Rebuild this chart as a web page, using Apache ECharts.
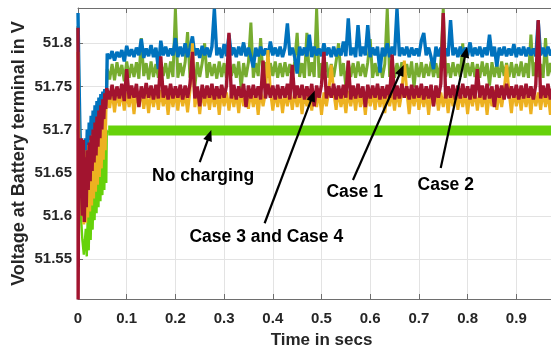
<!DOCTYPE html>
<html>
<head>
<meta charset="utf-8">
<script src="https://cdn.jsdelivr.net/npm/echarts@6/dist/echarts.min.js"></script>
<style>
  html, body { margin: 0; padding: 0; background: #ffffff; }
  #chart { width: 551px; height: 347px; }
</style>
</head>
<body>
<div id="chart"></div>
<script>
// ---- axis ticks -------------------------------------------------------
const xTickValues = [0, 0.1, 0.2, 0.3, 0.4, 0.5, 0.6, 0.7, 0.8, 0.9, 1];
const xTickLabels = ['0', '0.1', '0.2', '0.3', '0.4', '0.5', '0.6', '0.7', '0.8', '0.9', '1'];
const yTickValues = [51.55, 51.6, 51.65, 51.7, 51.75, 51.8];
const yTickLabels = ['51.55', '51.6', '51.65', '51.7', '51.75', '51.8'];

// ---- start-up transient, [time s, voltage V] -------------------------
const noChargingTransient = [
  [0, 51.700], [0.003, 51.640], [0.006, 51.600], [0.009, 51.572], [0.012, 51.555], [0.014, 51.553],
  [0.016, 51.585], [0.018, 51.553], [0.020, 51.600], [0.022, 51.560], [0.024, 51.615], [0.026, 51.572],
  [0.028, 51.628], [0.030, 51.584], [0.032, 51.638], [0.034, 51.595], [0.036, 51.646], [0.038, 51.603],
  [0.040, 51.655], [0.042, 51.610], [0.044, 51.665], [0.046, 51.617], [0.048, 51.673], [0.050, 51.624],
  [0.052, 51.683], [0.054, 51.630], [0.056, 51.690], [0.058, 51.638], [0.059, 51.695], [0.062, 51.699]
];
const case1Transient = [
  [0, 51.820], [0.002, 51.740], [0.004, 51.680], [0.006, 51.650], [0.008, 51.625], [0.010, 51.670],
  [0.012, 51.620], [0.014, 51.677], [0.016, 51.628], [0.018, 51.685], [0.020, 51.638], [0.022, 51.692],
  [0.024, 51.648], [0.026, 51.698], [0.028, 51.658], [0.030, 51.705], [0.032, 51.667], [0.034, 51.710],
  [0.036, 51.675], [0.038, 51.716], [0.040, 51.684], [0.042, 51.721], [0.044, 51.692], [0.046, 51.726],
  [0.048, 51.700], [0.050, 51.731], [0.052, 51.707], [0.054, 51.736], [0.056, 51.713], [0.058, 51.740]
];
const case2Transient = [
  [0, 51.835], [0.002, 51.760], [0.004, 51.700], [0.006, 51.660], [0.008, 51.630], [0.009, 51.622],
  [0.011, 51.675], [0.013, 51.640], [0.015, 51.690], [0.017, 51.655], [0.019, 51.700], [0.021, 51.668],
  [0.023, 51.708], [0.025, 51.680], [0.027, 51.716], [0.029, 51.690], [0.031, 51.722], [0.033, 51.698],
  [0.035, 51.728], [0.037, 51.705], [0.039, 51.733], [0.041, 51.712], [0.043, 51.737], [0.045, 51.718],
  [0.047, 51.741], [0.049, 51.723], [0.051, 51.744], [0.053, 51.728], [0.055, 51.747], [0.057, 51.732],
  [0.059, 51.750]
];
const case3Transient = [
  [0, 51.790], [0.002, 51.680], [0.004, 51.630], [0.006, 51.660], [0.008, 51.600], [0.010, 51.675],
  [0.012, 51.590], [0.014, 51.672], [0.016, 51.592], [0.018, 51.676], [0.020, 51.598], [0.022, 51.682],
  [0.024, 51.605], [0.026, 51.688], [0.028, 51.612], [0.030, 51.694], [0.032, 51.620], [0.034, 51.700],
  [0.036, 51.628], [0.038, 51.706], [0.040, 51.636], [0.042, 51.712], [0.044, 51.645], [0.046, 51.718],
  [0.048, 51.655], [0.050, 51.725], [0.052, 51.665], [0.054, 51.731], [0.056, 51.676], [0.058, 51.738]
];
const case4Transient = [
  [0, 51.818], [0.0003, 51.503], [0.001, 51.600], [0.003, 51.680], [0.005, 51.640], [0.007, 51.690],
  [0.009, 51.600], [0.011, 51.688], [0.013, 51.593], [0.015, 51.668], [0.017, 51.610], [0.019, 51.676],
  [0.021, 51.630], [0.023, 51.685], [0.025, 51.640], [0.027, 51.693], [0.029, 51.652], [0.031, 51.700],
  [0.033, 51.662], [0.035, 51.708], [0.037, 51.670], [0.039, 51.715], [0.041, 51.680], [0.043, 51.722],
  [0.045, 51.690], [0.047, 51.728], [0.049, 51.700], [0.051, 51.735], [0.053, 51.712], [0.055, 51.742],
  [0.057, 51.724], [0.059, 51.748]
];

// ---- settled response, sampled every 5 ms from 0.06 s to 1.0 s --------
const STEADY_T0 = 0.06;
const STEADY_DT = 0.005;

const noChargingSteady = [
  [0.062, 51.699], [0.2, 51.699], [0.4, 51.699], [0.6, 51.699], [0.8, 51.699], [1.0, 51.699]
];

const case1Steady = [
  51.770, 51.758, 51.776, 51.757, 51.778, 51.762, 51.775, 51.756, 51.779, 51.760,
  51.776, 51.761, 51.778, 51.759, 51.806, 51.762, 51.777, 51.758, 51.779, 51.761,
  51.776, 51.760, 51.778, 51.762, 51.777, 51.759, 51.779, 51.761, 51.840, 51.760,
  51.777, 51.762, 51.778, 51.813, 51.760, 51.776, 51.750, 51.778, 51.761, 51.777,
  51.800, 51.760, 51.778, 51.762, 51.776, 51.759, 51.779, 51.761, 51.777, 51.760,
  51.778, 51.762, 51.776, 51.760, 51.779, 51.748, 51.777, 51.761, 51.778, 51.824,
  51.760, 51.777, 51.762, 51.806, 51.761, 51.778, 51.760, 51.777, 51.762, 51.779,
  51.760, 51.777, 51.761, 51.778, 51.762, 51.776, 51.760, 51.779, 51.812, 51.761,
  51.777, 51.760, 51.812, 51.762, 51.778, 51.761, 51.840, 51.760, 51.777, 51.762,
  51.778, 51.760, 51.776, 51.761, 51.779, 51.800, 51.762, 51.777, 51.750, 51.778,
  51.761, 51.777, 51.760, 51.779, 51.762, 51.776, 51.761, 51.778, 51.805, 51.760,
  51.777, 51.762, 51.778, 51.760, 51.776, 51.840, 51.761, 51.779, 51.760, 51.777,
  51.762, 51.778, 51.761, 51.776, 51.760, 51.779, 51.749, 51.777, 51.761, 51.778,
  51.760, 51.776, 51.762, 51.779, 51.761, 51.777, 51.760, 51.778, 51.840, 51.761,
  51.777, 51.760, 51.778, 51.762, 51.776, 51.761, 51.800, 51.760, 51.777, 51.762,
  51.778, 51.761, 51.776, 51.760, 51.779, 51.762, 51.777, 51.751, 51.778, 51.761,
  51.776, 51.760, 51.779, 51.762, 51.777, 51.761, 51.778, 51.760, 51.776, 51.762,
  51.779, 51.761, 51.777, 51.760, 51.810, 51.762, 51.778, 51.761, 51.776, 51.760,
  51.806, 51.762, 51.777, 51.761, 51.778, 51.760, 51.776, 51.762, 51.779
];

const case2Steady = [
  51.788, 51.782, 51.791, 51.780, 51.790, 51.784, 51.792, 51.779, 51.797, 51.785,
  51.793, 51.784, 51.795, 51.786, 51.805, 51.783, 51.794, 51.785, 51.798, 51.784,
  51.795, 51.770, 51.803, 51.786, 51.796, 51.785, 51.794, 51.786, 51.806, 51.784,
  51.796, 51.785, 51.800, 51.784, 51.795, 51.808, 51.786, 51.794, 51.783, 51.797,
  51.786, 51.795, 51.784, 51.796, 51.840, 51.786, 51.795, 51.783, 51.799, 51.785,
  51.810, 51.786, 51.795, 51.784, 51.796, 51.786, 51.801, 51.785, 51.795, 51.784,
  51.772, 51.795, 51.785, 51.796, 51.786, 51.794, 51.784, 51.802, 51.786, 51.795,
  51.785, 51.796, 51.784, 51.795, 51.823, 51.786, 51.795, 51.784, 51.765, 51.796,
  51.786, 51.795, 51.785, 51.810, 51.784, 51.796, 51.786, 51.794, 51.785, 51.800,
  51.786, 51.795, 51.784, 51.796, 51.785, 51.794, 51.786, 51.802, 51.785, 51.829,
  51.786, 51.795, 51.784, 51.821, 51.785, 51.796, 51.786, 51.821, 51.784, 51.795,
  51.786, 51.796, 51.766, 51.795, 51.785, 51.800, 51.784, 51.796, 51.786, 51.840,
  51.785, 51.795, 51.786, 51.796, 51.784, 51.795, 51.786, 51.794, 51.785, 51.803,
  51.812, 51.786, 51.795, 51.784, 51.770, 51.796, 51.785, 51.795, 51.786, 51.794,
  51.785, 51.827, 51.786, 51.795, 51.784, 51.796, 51.785, 51.795, 51.786, 51.801,
  51.785, 51.795, 51.786, 51.796, 51.784, 51.795, 51.786, 51.810, 51.785, 51.796,
  51.773, 51.795, 51.786, 51.796, 51.785, 51.794, 51.786, 51.799, 51.784, 51.795,
  51.786, 51.796, 51.785, 51.795, 51.786, 51.794, 51.785, 51.826, 51.786, 51.795,
  51.785, 51.796, 51.786, 51.794, 51.785, 51.795, 51.786, 51.796, 51.785
];

const case3Steady = [
  51.742, 51.725, 51.745, 51.720, 51.744, 51.727, 51.746, 51.722, 51.743, 51.726,
  51.745, 51.718, 51.744, 51.727, 51.746, 51.724, 51.743, 51.719, 51.745, 51.726,
  51.744, 51.723, 51.746, 51.727, 51.743, 51.717, 51.745, 51.726, 51.744, 51.722,
  51.746, 51.727, 51.743, 51.720, 51.745, 51.800, 51.726, 51.744, 51.718, 51.746,
  51.727, 51.743, 51.723, 51.745, 51.726, 51.744, 51.717, 51.746, 51.727, 51.743,
  51.722, 51.745, 51.726, 51.744, 51.719, 51.746, 51.727, 51.743, 51.724, 51.745,
  51.726, 51.744, 51.717, 51.746, 51.727, 51.743, 51.792, 51.745, 51.722, 51.744,
  51.726, 51.746, 51.719, 51.743, 51.727, 51.745, 51.723, 51.744, 51.726, 51.746,
  51.718, 51.743, 51.727, 51.745, 51.722, 51.744, 51.726, 51.746, 51.717, 51.743,
  51.727, 51.745, 51.775, 51.744, 51.723, 51.746, 51.726, 51.743, 51.719, 51.745,
  51.727, 51.744, 51.722, 51.746, 51.726, 51.743, 51.717, 51.745, 51.727, 51.744,
  51.723, 51.746, 51.726, 51.743, 51.719, 51.745, 51.727, 51.744, 51.722, 51.746,
  51.726, 51.743, 51.780, 51.745, 51.718, 51.744, 51.727, 51.746, 51.723, 51.743,
  51.726, 51.745, 51.717, 51.744, 51.727, 51.746, 51.722, 51.743, 51.726, 51.745,
  51.719, 51.744, 51.727, 51.746, 51.723, 51.743, 51.726, 51.745, 51.718, 51.744,
  51.727, 51.746, 51.722, 51.743, 51.726, 51.745, 51.717, 51.744, 51.727, 51.746,
  51.723, 51.743, 51.726, 51.745, 51.775, 51.744, 51.719, 51.746, 51.727, 51.743,
  51.722, 51.745, 51.726, 51.744, 51.718, 51.746, 51.727, 51.743, 51.723, 51.745,
  51.726, 51.744, 51.717, 51.746, 51.727, 51.743, 51.722, 51.745, 51.726
];

const case4Steady = [
  51.748, 51.735, 51.752, 51.734, 51.750, 51.736, 51.753, 51.733, 51.770, 51.736,
  51.751, 51.737, 51.753, 51.726, 51.750, 51.736, 51.754, 51.737, 51.751, 51.735,
  51.752, 51.736, 51.785, 51.737, 51.751, 51.735, 51.753, 51.736, 51.750, 51.737,
  51.752, 51.735, 51.751, 51.737, 51.753, 51.790, 51.736, 51.750, 51.727, 51.752,
  51.736, 51.751, 51.737, 51.753, 51.735, 51.750, 51.736, 51.752, 51.737, 51.751,
  51.812, 51.736, 51.752, 51.735, 51.750, 51.737, 51.753, 51.726, 51.751, 51.736,
  51.752, 51.737, 51.750, 51.735, 51.780, 51.736, 51.753, 51.737, 51.751, 51.735,
  51.752, 51.736, 51.750, 51.737, 51.753, 51.735, 51.775, 51.736, 51.751, 51.737,
  51.752, 51.735, 51.750, 51.736, 51.753, 51.727, 51.751, 51.737, 51.752, 51.790,
  51.736, 51.750, 51.737, 51.753, 51.735, 51.751, 51.736, 51.752, 51.737, 51.780,
  51.735, 51.751, 51.736, 51.753, 51.737, 51.750, 51.726, 51.752, 51.736, 51.751,
  51.737, 51.753, 51.735, 51.750, 51.736, 51.752, 51.737, 51.787, 51.735, 51.751,
  51.736, 51.753, 51.737, 51.750, 51.735, 51.752, 51.736, 51.751, 51.737, 51.753,
  51.735, 51.750, 51.736, 51.752, 51.727, 51.751, 51.737, 51.753, 51.835, 51.736,
  51.750, 51.737, 51.752, 51.735, 51.751, 51.736, 51.753, 51.737, 51.750, 51.735,
  51.752, 51.736, 51.770, 51.737, 51.751, 51.735, 51.753, 51.736, 51.750, 51.726,
  51.752, 51.737, 51.751, 51.735, 51.753, 51.736, 51.750, 51.737, 51.752, 51.735,
  51.751, 51.736, 51.753, 51.737, 51.750, 51.735, 51.752, 51.827, 51.736, 51.751,
  51.737, 51.753, 51.735, 51.750, 51.736, 51.752, 51.737, 51.751, 51.736
];

// ---- call-outs (anchored in data coordinates) --------------------------
const callouts = [
  { text: 'No charging',       label: [0.257, 51.6462], from: [0.250, 51.6623], to: [0.2737, 51.6994] },
  { text: 'Case 3 and Case 4', label: [0.3867, 51.5748], from: [0.3832, 51.5914], to: [0.4859, 51.7450] },
  { text: 'Case 1',            label: [0.5681, 51.6270], from: [0.5646, 51.6415], to: [0.6688, 51.7748] },
  { text: 'Case 2',            label: [0.7551, 51.6358], from: [0.7448, 51.6555], to: [0.7989, 51.7960] }
];

// ---- helpers -----------------------------------------------------------
function withSampleTimes(values) {
  return values.map((v, i) => [+(STEADY_T0 + i * STEADY_DT).toFixed(4), v]);
}
function tickFormatter(values, labels) {
  return function (value) {
    for (let i = 0; i < values.length; i++) {
      if (Math.abs(values[i] - value) < 1e-6) return labels[i];
    }
    return '';
  };
}

const FONT = '"Liberation Sans", Arial, Helvetica, sans-serif';
const TEXT_COLOR = '#262626';
const AXIS_COLOR = '#6e6e6e';
const GRID_COLOR = '#e3e3e3';

function lineSeries(name, data, color, width) {
  return {
    type: 'line',
    name: name,
    data: data,
    symbol: 'none',
    showSymbol: false,
    animation: false,
    lineStyle: { color: color, width: width, join: 'miter', miterLimit: 2 },
    itemStyle: { color: color },
    emphasis: { disabled: true }
  };
}

const chart = echarts.init(document.getElementById('chart'), null, { renderer: 'canvas' });

chart.setOption({
  animation: false,
  backgroundColor: '#ffffff',
  textStyle: { fontFamily: FONT },
  // the plot box runs on past the right edge of the page (x = 1 s lies off-canvas)
  grid: { left: 78, right: -14, top: 8, bottom: 48, containLabel: false, outerBoundsMode: 'none' },
  xAxis: [
    {
      type: 'value',
      min: 0,
      max: 1,
      splitNumber: 10,
      minInterval: 0.1,
      maxInterval: 0.1,
      name: 'Time in secs',
      nameLocation: 'middle',
      nameGap: 33,
      nameTextStyle: { color: TEXT_COLOR, fontSize: 17, fontWeight: 'bold', fontFamily: FONT },
      axisLine: { show: true, onZero: false, lineStyle: { color: AXIS_COLOR, width: 1 } },
      axisTick: { show: true, inside: true, length: 5, lineStyle: { color: AXIS_COLOR } },
      axisLabel: {
        color: TEXT_COLOR, fontSize: 15, fontWeight: 'bold', fontFamily: FONT, margin: 12,
        formatter: tickFormatter(xTickValues, xTickLabels)
      },
      splitLine: { show: true, lineStyle: { color: GRID_COLOR, width: 1 } }
    },
    {
      type: 'value',
      position: 'top',
      min: 0,
      max: 1,
      splitNumber: 10,
      minInterval: 0.1,
      maxInterval: 0.1,
      axisLine: { show: true, onZero: false, lineStyle: { color: AXIS_COLOR, width: 1 } },
      axisTick: { show: true, inside: true, length: 5, lineStyle: { color: AXIS_COLOR } },
      axisLabel: { show: false },
      splitLine: { show: false }
    }
  ],
  yAxis: {
    type: 'value',
    min: 51.5036,
    max: 51.8409,
    splitNumber: 6,
    minInterval: 0.05,
    maxInterval: 0.05,
    name: 'Voltage at Battery terminal in V',
    nameLocation: 'middle',
    nameGap: 50,
    nameMoveOverlap: false,
    nameTextStyle: { color: TEXT_COLOR, fontSize: 18, fontWeight: 'bold', fontFamily: FONT },
    axisLine: { show: true, onZero: false, lineStyle: { color: AXIS_COLOR, width: 1 } },
    axisTick: { show: true, inside: true, length: 5, lineStyle: { color: AXIS_COLOR } },
    axisLabel: {
      color: TEXT_COLOR, fontSize: 15, fontWeight: 'bold', fontFamily: FONT, margin: 6,
      showMinLabel: false, showMaxLabel: false,
      formatter: tickFormatter(yTickValues, yTickLabels)
    },
    splitLine: { show: true, lineStyle: { color: GRID_COLOR, width: 1 } }
  },
  series: [
    lineSeries('No charging', noChargingTransient, '#66D20A', 2.4),
    lineSeries('No charging', noChargingSteady, '#66D20A', 10),
    lineSeries('Case 1', case1Transient.concat(withSampleTimes(case1Steady)), '#77AC30', 3),
    lineSeries('Case 2', case2Transient.concat(withSampleTimes(case2Steady)), '#0072BD', 3.4),
    lineSeries('Case 3', case3Transient.concat(withSampleTimes(case3Steady)), '#EDB120', 3),
    lineSeries('Case 4', case4Transient.concat(withSampleTimes(case4Steady)), '#A2142F', 3.4)
  ]
});

// ---- arrows and call-out text -------------------------------------------
function buildCallouts() {
  const elements = [];
  const HEAD_LEN = 11;
  const HEAD_HALF = 4.5;
  callouts.forEach(function (c) {
    const p0 = chart.convertToPixel({ gridIndex: 0 }, c.from);
    const p1 = chart.convertToPixel({ gridIndex: 0 }, c.to);
    const pt = chart.convertToPixel({ gridIndex: 0 }, c.label);
    const dx = p1[0] - p0[0];
    const dy = p1[1] - p0[1];
    const len = Math.sqrt(dx * dx + dy * dy);
    const ux = dx / len, uy = dy / len;
    const nx = -uy, ny = ux;
    const bx = p1[0] - ux * HEAD_LEN, by = p1[1] - uy * HEAD_LEN;
    elements.push({
      type: 'line',
      silent: true,
      z: 100,
      shape: { x1: p0[0], y1: p0[1], x2: bx + ux * 2, y2: by + uy * 2 },
      style: { stroke: '#000000', lineWidth: 2.2 }
    });
    elements.push({
      type: 'polygon',
      silent: true,
      z: 100,
      shape: { points: [[p1[0], p1[1]], [bx + nx * HEAD_HALF, by + ny * HEAD_HALF], [bx - nx * HEAD_HALF, by - ny * HEAD_HALF]] },
      style: { fill: '#000000' }
    });
    elements.push({
      type: 'text',
      silent: true,
      z: 100,
      x: pt[0],
      y: pt[1],
      style: {
        text: c.text,
        fill: '#000000',
        fontSize: 17.5,
        fontWeight: 'bold',
        fontFamily: FONT,
        align: 'center',
        verticalAlign: 'middle'
      }
    });
  });
  return elements;
}

chart.setOption({ graphic: buildCallouts() });
</script>
</body>
</html>
